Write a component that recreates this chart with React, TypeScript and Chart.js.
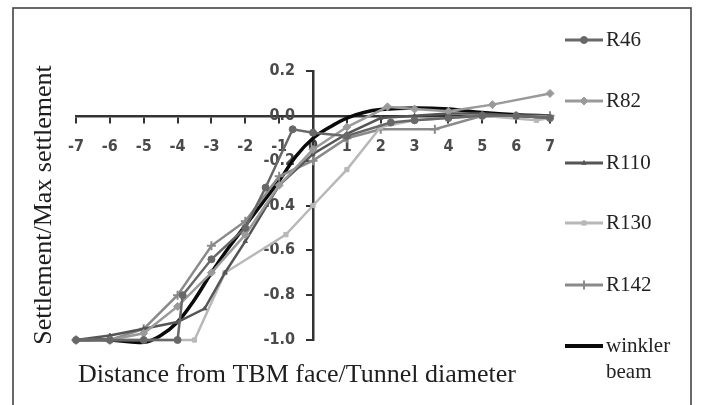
import React, { useEffect, useRef } from 'react';
import { Chart, registerables } from 'chart.js';
import { drawPoint } from 'chart.js/helpers';

Chart.register(...registerables);

// ---- data ----
const seriesNames = ['R46', 'R82', 'R110', 'R130', 'R142'];

const r46X = [-7, -6, -5, -4, -3.85, -3, -2, -1.4, -0.6, 0, 1, 2.3, 3, 4, 5, 6, 7];
const r46Y = [-1.0, -1.0, -1.0, -1.0, -0.8, -0.64, -0.5, -0.32, -0.06, -0.075, -0.09, -0.03, -0.02, -0.01, 0.0, 0.0, -0.01];

const r82X = [-7, -6, -5, -4, -3, -2, -1, 0, 1, 2.2, 3, 4, 5.3, 7];
const r82Y = [-1.0, -1.0, -0.97, -0.85, -0.7, -0.53, -0.31, -0.15, -0.05, 0.04, 0.03, 0.02, 0.05, 0.1];

const r110X = [-7, -6, -5, -4, -3.2, -2.6, -2, -1, 0, 1, 2, 3, 4, 5, 6, 7];
const r110Y = [-1.0, -0.98, -0.95, -0.92, -0.86, -0.7, -0.56, -0.31, -0.17, -0.08, -0.01, 0.0, 0.01, 0.01, 0.0, -0.01];

const r130X = [-7, -6, -5, -4, -3.5, -2.6, -0.8, 0, 1, 2, 3, 4, 5, 6.6, 7];
const r130Y = [-1.0, -1.0, -1.0, -1.0, -1.0, -0.7, -0.53, -0.4, -0.24, -0.05, -0.02, -0.01, 0.0, -0.02, -0.01];

const r142X = [-7, -6, -5, -4, -3, -2, -1, 0, 1, 2, 3.6, 5, 6, 7];
const r142Y = [-1.0, -1.0, -0.95, -0.8, -0.58, -0.47, -0.27, -0.2, -0.1, -0.06, -0.06, 0.0, 0.0, 0.0];

const winklerX = [-7, -6, -5, -4.5, -4, -3.5, -3, -2.5, -2, -1.5, -1, -0.5, 0, 0.5, 1, 1.5, 2, 3, 4, 5, 6, 7];
const winklerY = [-1.0, -1.0, -1.01, -0.98, -0.92, -0.82, -0.7, -0.59, -0.49, -0.39, -0.29, -0.18, -0.1, -0.05, -0.01, 0.015, 0.028, 0.035, 0.03, 0.015, 0.005, 0.0];

const xTickValues = [-7, -6, -5, -4, -3, -2, -1, 0, 1, 2, 3, 4, 5, 6, 7];
const yTickValues = [0.2, 0.0, -0.2, -0.4, -0.6, -0.8, -1.0];

const xTitle = 'Distance from TBM face/Tunnel diameter';
const yTitle = 'Settlement/Max settlement';
const winklerLabel = ['winkler', 'beam'];

const seriesColors = ['#686868', '#9a9a9a', '#555555', '#b8b8b8', '#8a8a8a'];
const seriesMarkers = ['circle', 'rectRot', 'triangle', 'rect', 'cross'];
const seriesRadius = [3.5, 4, 2.5, 3, 4.5];

const zip = (xs: number[], ys: number[]) => xs.map((x, i) => ({ x, y: ys[i] }));

const overlayPlugin = {
  id: 'overlay',
  afterDraw(chart: any) {
    const ctx = chart.ctx;
    ctx.save();
    // outer frame
    ctx.strokeStyle = '#444';
    ctx.lineWidth = 1.6;
    ctx.strokeRect(13, 8, 678, 420);

    // axis titles
    ctx.fillStyle = '#1e1e1e';
    ctx.font = '26px "Liberation Serif"';
    ctx.textAlign = 'center';
    ctx.textBaseline = 'middle';
    ctx.fillText(xTitle, 297, 375);
    ctx.save();
    ctx.translate(44, 205);
    ctx.rotate(-Math.PI / 2);
    ctx.fillText(yTitle, 0, 0);
    ctx.restore();

    // legend
    const items = chart.data.datasets;
    const legendY = [40, 101, 163, 223, 285, 346];
    items.forEach((ds: any, i: number) => {
      const y = legendY[i];
      ctx.strokeStyle = ds.borderColor;
      ctx.lineWidth = i === 5 ? 4 : 3;
      ctx.beginPath();
      ctx.moveTo(565, y);
      ctx.lineTo(603, y);
      ctx.stroke();
      if (i < 5) {
        ctx.fillStyle = ds.pointBackgroundColor;
        ctx.strokeStyle = ds.pointBorderColor;
        ctx.lineWidth = ds.pointBorderWidth;
        drawPoint(ctx, { pointStyle: ds.pointStyle, radius: ds.pointRadius, borderWidth: ds.pointBorderWidth, rotation: 0 }, 584, y);
      }
      ctx.fillStyle = '#222';
      ctx.font = '21px "Liberation Serif"';
      ctx.textAlign = 'left';
      ctx.textBaseline = 'middle';
      const label = ds.label;
      if (Array.isArray(label)) {
        label.forEach((t: string, k: number) => ctx.fillText(t, 606, y + k * 26));
      } else {
        ctx.fillText(label, 606, y);
      }
    });
    ctx.restore();
  },
};

export default function App() {
  const ref = useRef<HTMLCanvasElement>(null);
  useEffect(() => {
    if (!ref.current) return;
    const xs = [r46X, r82X, r110X, r130X, r142X];
    const ys = [r46Y, r82Y, r110Y, r130Y, r142Y];
    const datasets: any[] = seriesNames.map((name, i) => ({
      label: name,
      data: zip(xs[i], ys[i]),
      borderColor: seriesColors[i],
      backgroundColor: seriesColors[i],
      pointBackgroundColor: seriesColors[i],
      pointBorderColor: seriesColors[i],
      pointBorderWidth: seriesMarkers[i] === 'cross' ? 2 : 1,
      pointStyle: seriesMarkers[i],
      pointRadius: seriesRadius[i],
      borderWidth: 2.5,
      tension: 0,
      clip: false,
    }));
    datasets.push({
      label: winklerLabel,
      data: zip(winklerX, winklerY),
      borderColor: '#0a0a0a',
      backgroundColor: '#0a0a0a',
      borderWidth: 3.5,
      pointRadius: 0,
      tension: 0.4,
      clip: false,
    });
    const chart = new Chart(ref.current, {
      type: 'line',
      data: { datasets },
      options: {
        animation: false,
        responsive: false,
        devicePixelRatio: 1,
        layout: { padding: { left: 76, right: 151, top: 71, bottom: 65 } },
        plugins: { legend: { display: false }, tooltip: { enabled: false }, title: { display: false } },
        scales: {
          x: {
            type: 'linear',
            position: { y: 0 } as any,
            min: -7,
            max: 7,
            afterBuildTicks: (s: any) => { s.ticks = xTickValues.map((v) => ({ value: v })); },
            ticks: {
              autoSkip: false,
              maxRotation: 0,
              padding: 15,
              color: '#4a4a4a',
              font: { family: '"DejaVu Sans Condensed"', size: 16, weight: 'bold' },
              callback: (v: any) => String(v),
            },
            grid: { display: true, drawOnChartArea: false, drawTicks: true, tickLength: 6, color: '#333', lineWidth: 2 },
            border: { display: true, color: '#333', width: 2.5 },
          },
          y: {
            type: 'linear',
            position: 'center',
            min: -1.0,
            max: 0.2,
            afterBuildTicks: (s: any) => { s.ticks = yTickValues.map((v) => ({ value: v })); },
            ticks: {
              autoSkip: false,
              padding: 12,
              color: '#4a4a4a',
              font: { family: '"DejaVu Sans Condensed"', size: 16, weight: 'bold' },
              callback: (v: any) => Number(v).toFixed(1),
            },
            grid: { display: true, drawOnChartArea: false, drawTicks: true, tickLength: 6, color: '#333', lineWidth: 2 },
            border: { display: true, color: '#333', width: 2.5 },
          },
        },
      },
      plugins: [overlayPlugin],
    });
    return () => chart.destroy();
  }, []);
  return (
    <div style={{ position: 'fixed', left: 0, top: 0, width: 701, height: 405, background: '#fff' }}>
      <canvas ref={ref} width={701} height={405} style={{ display: 'block' }} />
    </div>
  );
}
